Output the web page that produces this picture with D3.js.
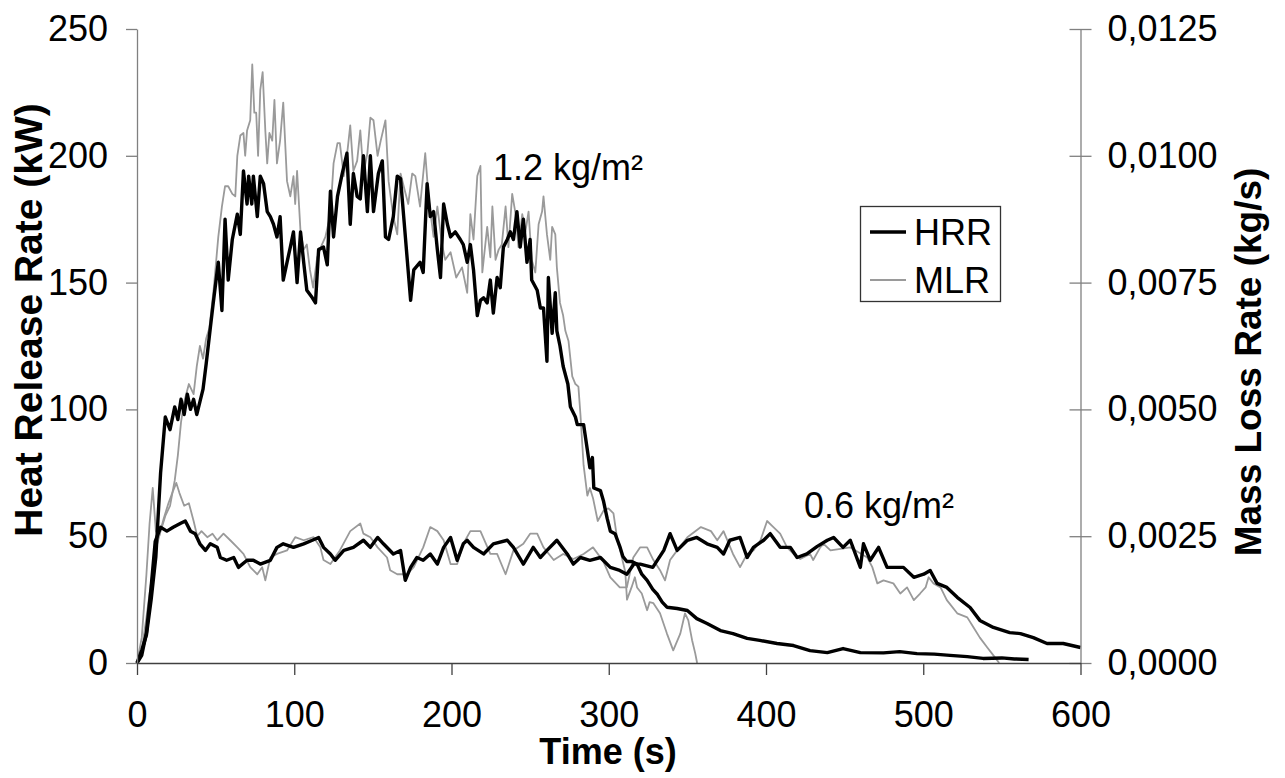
<!DOCTYPE html>
<html>
<head>
<meta charset="utf-8">
<script src="https://cdn.jsdelivr.net/npm/d3@7"></script>
<style>
  html, body { margin: 0; padding: 0; background: #fff; }
  svg { display: block; }
  text { font-family: "Liberation Sans", Arial, sans-serif; fill: #000; }
</style>
</head>
<body>
<svg id="chart" width="1285" height="778"></svg>
<script>
// ---------------- DATA ----------------
const xTicks = [0, 100, 200, 300, 400, 500, 600];
const yLeftTicks = [0, 50, 100, 150, 200, 250];
const yRightTicks = [0, 0.0025, 0.005, 0.0075, 0.01, 0.0125];
const seriesNames = ["HRR", "MLR"];
const annotations = [
  { label: "1.2 kg/m²", t: 227, v: 190 },
  { label: "0.6 kg/m²", t: 425, v: 57 }
];

// Heat release rate, 1.2 kg/m² [time s, kW]
const hrr12 = [[0,0],[3,5],[6,11],[9,25],[12,42],[15,75],[18,97],[21,92],[24,101],[26,96],[28,104],[30,98],[32,106],[34,100],[36,104],[38,98],[40,103],[42,108],[44,118],[46.6,132],[48.5,142],[51.7,158],[54,139],[56,175],[58,151],[60.6,167],[63.8,177],[65.7,169],[67.7,194],[70,181],[71,192],[73,181],[74,192],[76.5,176],[78.4,192],[80.5,189],[82.8,178],[84.8,176],[86.8,173],[89,168],[91,176],[93,151],[95.4,158],[97.5,164],[99.5,170],[101.8,150],[104,170],[106,158],[108,147],[111.5,144],[113.5,142],[115.5,163],[118.6,164],[121,157],[123,186],[125,168],[127.5,184],[130.5,193],[133.5,201],[135.6,173],[137.6,193],[140,184],[142,183],[144,200],[146.5,178],[148.4,200],[150.4,178],[153.5,193],[156,198],[158,168],[160,167],[163,176],[165.5,192],[167.6,191],[169.6,176],[174,143],[176,155],[180,158],[182,154],[184.5,189],[186.5,176],[188.6,178],[191,163],[193,152],[195,181],[197.4,173],[199.4,168],[202.4,170],[205.6,167],[207.5,165],[210,158],[212,165],[214,155],[216.4,137],[218.4,143],[220.4,144],[222.7,142],[224.7,151],[226.6,138],[229,152],[231,148],[233,164],[235.5,167],[237.4,170],[239.4,167],[241.6,178],[243.7,164],[245.7,175],[248,158],[250,167],[251,151],[254.5,147],[256.5,140],[258.5,140],[260.7,119],[261.6,152],[264,130],[266,146],[267,131],[269,125],[271,117],[274,110],[275.6,101],[278.8,97],[280,94],[284,94],[286.4,84],[288,77],[289.6,81],[290.5,69],[294.7,68],[296.6,64],[299,57],[301,52],[304,51],[307,46],[309,42],[311.5,40],[314.6,40],[318,39],[321,35],[324.4,32.6],[328,29],[331,27],[334,24],[337,22],[343.5,21.5],[350,20.7],[356,17.5],[362.5,15.6],[371,12.8],[379,11.6],[388,9.7],[396,8.9],[407,7.7],[417.5,6.9],[428,4.9],[439,4.1],[449,5.7],[460,4.1],[474.7,4],[485,4.5],[496,3.7],[507,3.5],[517,3],[528,2.5],[538,1.8],[550,2],[558,1.6],[567,1.4]];

// Heat release rate, 0.6 kg/m² [time s, kW]
const hrr06 = [[0,0],[3,3],[6,12],[9,30],[11.6,48],[15,53.5],[19,52],[23,53.5],[27.5,55],[30.7,56],[34,52],[37,51],[40,47],[43.5,44.4],[46.6,47],[51,45.6],[53,41.6],[57,40.5],[61.5,41.6],[64.5,37.7],[70,40.5],[74,40.5],[78.4,39],[84.8,40.5],[89,45.6],[93,47],[99.5,45.6],[106,47],[111.5,48.4],[115.5,49.5],[118.6,45.6],[123,43],[126,40.5],[131.5,44.4],[137.6,45.6],[144,48.4],[148.4,45.6],[153,49.5],[156.7,47],[163,43],[167.6,44.4],[170.6,32.6],[174,37.7],[178,41.6],[182,40.5],[186.5,43],[191,39],[195,45.6],[199.4,49.5],[203.6,40.5],[207.5,47],[210,48.4],[214,45.6],[220.4,43],[226.6,47],[235.5,48.4],[239.4,45.6],[245.7,39],[252,45.6],[256.5,41.6],[260.7,44.4],[267,48.4],[273.6,43],[277.5,39],[282,41.6],[288,40.5],[294.7,41.6],[301,37.7],[307,36.5],[311.5,35],[316,39],[320,39],[328,37.7],[335,44.4],[339,51],[343.5,44.4],[350,48.4],[356,49.5],[362.5,47],[369,45.6],[373,43],[377,48.4],[383.5,49.5],[388,41.6],[392,45.6],[398.5,48.4],[402.7,51],[409,45.6],[415.5,45.6],[419.8,41.6],[426,43],[432.6,46],[439,48.4],[443,49.5],[449,45.6],[453.6,48.4],[460,37.7],[462,47],[466.3,40.5],[471.6,45.6],[477,37.7],[483.4,37.7],[487.4,37.7],[494,33.8],[500.3,35],[504.4,36.5],[508.8,31.4],[515,29.8],[521.6,25.9],[529.8,21.9],[536,16.8],[544.6,14],[555,12],[561.8,11.6],[570,10],[578.7,7.7],[589,7.7],[600,6.1]];

// Mass loss rate, 1.2 kg/m² [time s, kg/s]
const mlr12 = [[0,0],[3,0.00025],[6,0.0009],[9,0.0016],[12,0.00225],[15,0.0026],[18,0.0029],[21,0.0031],[24,0.0036],[26,0.0041],[28,0.00475],[30,0.00515],[33,0.0055],[36,0.0053],[38,0.00585],[40,0.00625],[42,0.006],[44,0.0064],[46,0.0066],[48.7,0.00735],[51.7,0.0084],[54,0.009],[56,0.0094],[58,0.0094],[60.6,0.00925],[62.5,0.0092],[63.8,0.01],[65.7,0.0104],[67.7,0.01045],[68.8,0.01],[70,0.0105],[72,0.0107],[73.3,0.0118],[74.6,0.01085],[75.8,0.01085],[77,0.01],[78.4,0.0113],[79.9,0.01165],[81.6,0.0105],[82.8,0.00985],[84.2,0.01045],[86,0.0103],[87.4,0.0111],[89,0.00985],[91,0.0103],[93,0.01105],[95.4,0.0095],[97.5,0.0092],[99.5,0.0096],[100.6,0.00905],[101.8,0.0097],[104,0.0085],[106,0.00815],[108,0.00825],[110,0.00775],[112,0.0074],[114.6,0.008],[117.6,0.00825],[119.8,0.0084],[123,0.00885],[125,0.00985],[127.5,0.01025],[129,0.01025],[131.5,0.0096],[133.5,0.01],[135.6,0.0106],[137.6,0.0097],[140,0.0099],[142,0.0105],[144,0.00965],[146.5,0.01005],[148.4,0.01075],[150.4,0.0107],[153,0.01],[155,0.0103],[158,0.0107],[160,0.0095],[163,0.0088],[165.5,0.00845],[167.6,0.00965],[169.6,0.0094],[172.5,0.00905],[175,0.00965],[177,0.0096],[180,0.009],[183.3,0.01005],[185.5,0.00915],[188.6,0.0084],[191,0.009],[194,0.00825],[196,0.00795],[199.4,0.0081],[203,0.0076],[206.7,0.0078],[210,0.0073],[212,0.00885],[214,0.00835],[216.4,0.0096],[218.4,0.0098],[219.6,0.0077],[222.7,0.0086],[224.7,0.008],[226,0.009],[228,0.00795],[230,0.00815],[232,0.00825],[234.4,0.009],[236.2,0.0082],[238.6,0.00925],[240.5,0.0089],[242.6,0.0082],[245,0.00885],[247,0.0085],[249,0.0089],[251,0.00795],[253.3,0.0077],[255.4,0.00865],[257.6,0.0089],[258.5,0.0092],[260.7,0.00845],[262.8,0.00795],[264,0.0086],[266,0.00845],[267,0.0078],[269,0.0071],[271,0.00685],[272.4,0.00655],[274.4,0.00635],[276.8,0.00565],[278.8,0.0055],[280.7,0.00545],[282,0.0049],[284,0.0039],[286.4,0.0033],[288,0.00345],[290,0.00325],[293,0.0028],[296.6,0.003],[299.8,0.00305],[303,0.00295],[305.5,0.00242],[307,0.00225],[310.5,0.0018],[311.6,0.00125],[314.6,0.0015],[316.6,0.00169],[318,0.00149],[321,0.00137],[324.4,0.00104],[326,0.0012],[328.4,0.00118],[332.6,0.00098],[337,0.00058],[341,0.00025],[345.5,0.00058],[348.5,0.00098],[350.6,0.00084],[353,0.00045],[355,0.00019],[356.2,0]];

// Mass loss rate, 0.6 kg/m² [time s, kg/s]
const mlr06 = [[0,0],[3,0.0005],[6,0.00175],[8,0.00275],[10,0.00345],[12,0.0026],[14,0.0025],[17,0.00285],[20,0.00315],[23,0.0034],[25,0.00355],[27,0.00335],[30,0.0031],[33,0.00315],[36,0.0028],[38.3,0.0025],[41,0.0026],[44.7,0.00248],[48,0.00255],[51,0.00242],[55,0.00255],[59.3,0.00242],[63.8,0.00228],[67.7,0.00215],[72,0.00189],[76.5,0.00175],[79.6,0.00189],[81.6,0.00163],[84.8,0.00208],[89,0.00215],[95.4,0.00222],[100.6,0.00248],[106,0.00242],[112.3,0.00248],[116.6,0.00228],[118.6,0.00203],[123,0.00195],[129,0.00222],[135.6,0.0026],[142,0.00275],[144,0.00255],[148.4,0.00248],[153,0.00228],[159,0.00208],[161,0.00183],[165.5,0.00175],[171.8,0.00175],[176,0.00189],[182,0.00228],[186.5,0.00268],[191,0.0026],[195,0.00242],[199.4,0.00195],[203.6,0.00195],[207.5,0.00235],[212,0.0026],[218.4,0.0026],[224.7,0.00215],[229,0.00215],[234.4,0.00175],[239.4,0.00222],[245.7,0.00235],[250,0.00255],[254.5,0.00255],[258.5,0.00228],[265,0.00203],[271,0.00215],[277.5,0.00205],[284,0.00215],[290,0.00228],[296.6,0.002],[301,0.00169],[307,0.00149],[311.5,0.00149],[315.6,0.00208],[320,0.00228],[324.4,0.00228],[328.4,0.00203],[332.6,0.00183],[335.8,0.00163],[339,0.00203],[343.5,0.00222],[350,0.00248],[358.6,0.00268],[365,0.0026],[369,0.00242],[373,0.0026],[379,0.00215],[383.5,0.00189],[388,0.00215],[392,0.00222],[396.5,0.00242],[400.7,0.0028],[404.7,0.00268],[409,0.00255],[413.4,0.00228],[417.5,0.00215],[421.8,0.00205],[428,0.00215],[430,0.00203],[434.5,0.00228],[436.6,0.00235],[441,0.00222],[447.4,0.00225],[453.6,0.00228],[458,0.0022],[464.4,0.00208],[467.6,0.00189],[470.8,0.00157],[474.7,0.00163],[481,0.00157],[485.4,0.00137],[489.7,0.00149],[494,0.00124],[498,0.00137],[501.5,0.00149],[503.4,0.00169],[506.5,0.00157],[511,0.00149],[515,0.00124],[521.6,0.00098],[528,0.0009],[532,0.0007],[536,0.0005],[540.6,0.00031],[544.6,0.00015],[548.3,0]];

// ---------------- CHART ----------------
const svg = d3.select("#chart");
const L = 137, R = 1080.5, T = 29, B = 663;
const FS = 36;

const x = d3.scaleLinear().domain([0, 600]).range([L, R]);
const yL = d3.scaleLinear().domain([0, 250]).range([B, T]);
const yR = d3.scaleLinear().domain([0, 0.0125]).range([B, T]);

const lineL = d3.line().x(d => x(d[0])).y(d => yL(d[1]));
const lineR = d3.line().x(d => x(d[0])).y(d => yR(d[1]));

// data lines: gray MLR first, then black HRR
const gray = "#9a9a9a";
[mlr12, mlr06].forEach(s => {
  svg.append("path").datum(s).attr("d", lineR)
    .attr("fill", "none").attr("stroke", gray).attr("stroke-width", 1.8)
    .attr("stroke-linejoin", "round");
});
[hrr12, hrr06].forEach(s => {
  svg.append("path").datum(s).attr("d", lineL)
    .attr("fill", "none").attr("stroke", "#000").attr("stroke-width", 3.4)
    .attr("stroke-linejoin", "round");
});

// left axis
const gL = svg.append("g").attr("transform", `translate(${L},0)`)
  .call(d3.axisLeft(yL).tickValues(yLeftTicks).tickSize(11).tickPadding(18).tickSizeOuter(0));
gL.select(".domain").attr("stroke", "#808080").attr("stroke-width", 1.3);
gL.selectAll(".tick line").attr("stroke", "#808080").attr("stroke-width", 1.3);
gL.selectAll(".tick text").attr("font-size", FS).attr("font-family", "Liberation Sans, Arial, sans-serif").attr("fill", "#000");

// right axis (cross ticks)
const gR = svg.append("g").attr("transform", `translate(${R},0)`)
  .call(d3.axisRight(yR).tickValues(yRightTicks).tickSize(11).tickPadding(16).tickSizeOuter(0)
    .tickFormat(d => d.toFixed(4).replace(".", ",")));
gR.select(".domain").attr("stroke", "#808080").attr("stroke-width", 1.3);
gR.selectAll(".tick line").attr("x1", -11).attr("x2", 11).attr("stroke", "#808080").attr("stroke-width", 1.3);
gR.selectAll(".tick text").attr("font-size", FS).attr("font-family", "Liberation Sans, Arial, sans-serif").attr("fill", "#000");

// bottom axis
const gB = svg.append("g").attr("transform", `translate(0,${B})`)
  .call(d3.axisBottom(x).tickValues(xTicks).tickSize(12).tickPadding(26).tickSizeOuter(0));
gB.select(".domain").attr("stroke", "#404040").attr("stroke-width", 1.3);
gB.selectAll(".tick line").attr("stroke", "#404040").attr("stroke-width", 1.3);
gB.selectAll(".tick text").attr("font-size", FS).attr("font-family", "Liberation Sans, Arial, sans-serif").attr("fill", "#000");

// axis titles
svg.append("text").attr("x", 608).attr("y", 764).attr("text-anchor", "middle")
  .attr("font-size", 36).attr("font-weight", "bold").text("Time (s)");
svg.append("text").attr("transform", "translate(42,320) rotate(-90)").attr("text-anchor", "middle")
  .attr("font-size", 39).attr("font-weight", "bold").text("Heat Release Rate (kW)");
svg.append("text").attr("transform", "translate(1261,362) rotate(-90)").attr("text-anchor", "middle")
  .attr("font-size", 37).attr("font-weight", "bold").text("Mass Loss Rate (kg/s)");

// annotations
svg.append("text").attr("x", 493).attr("y", 180).attr("font-size", FS).text(annotations[0].label);
svg.append("text").attr("x", 804).attr("y", 518).attr("font-size", FS).text(annotations[1].label);

// legend
const lg = svg.append("g");
lg.append("rect").attr("x", 860.5).attr("y", 206.5).attr("width", 140).attr("height", 95)
  .attr("fill", "#fff").attr("stroke", "#333").attr("stroke-width", 1.3);
const legendStyles = [{ c: "#000", w: 3.4, y: 232 }, { c: gray, w: 1.8, y: 280 }];
seriesNames.forEach((n, i) => {
  const s = legendStyles[i];
  lg.append("line").attr("x1", 870).attr("x2", 906).attr("y1", s.y).attr("y2", s.y)
    .attr("stroke", s.c).attr("stroke-width", s.w);
  lg.append("text").attr("x", 914).attr("y", s.y).attr("dy", "0.36em").attr("font-size", FS).text(n);
});
</script>
</body>
</html>
